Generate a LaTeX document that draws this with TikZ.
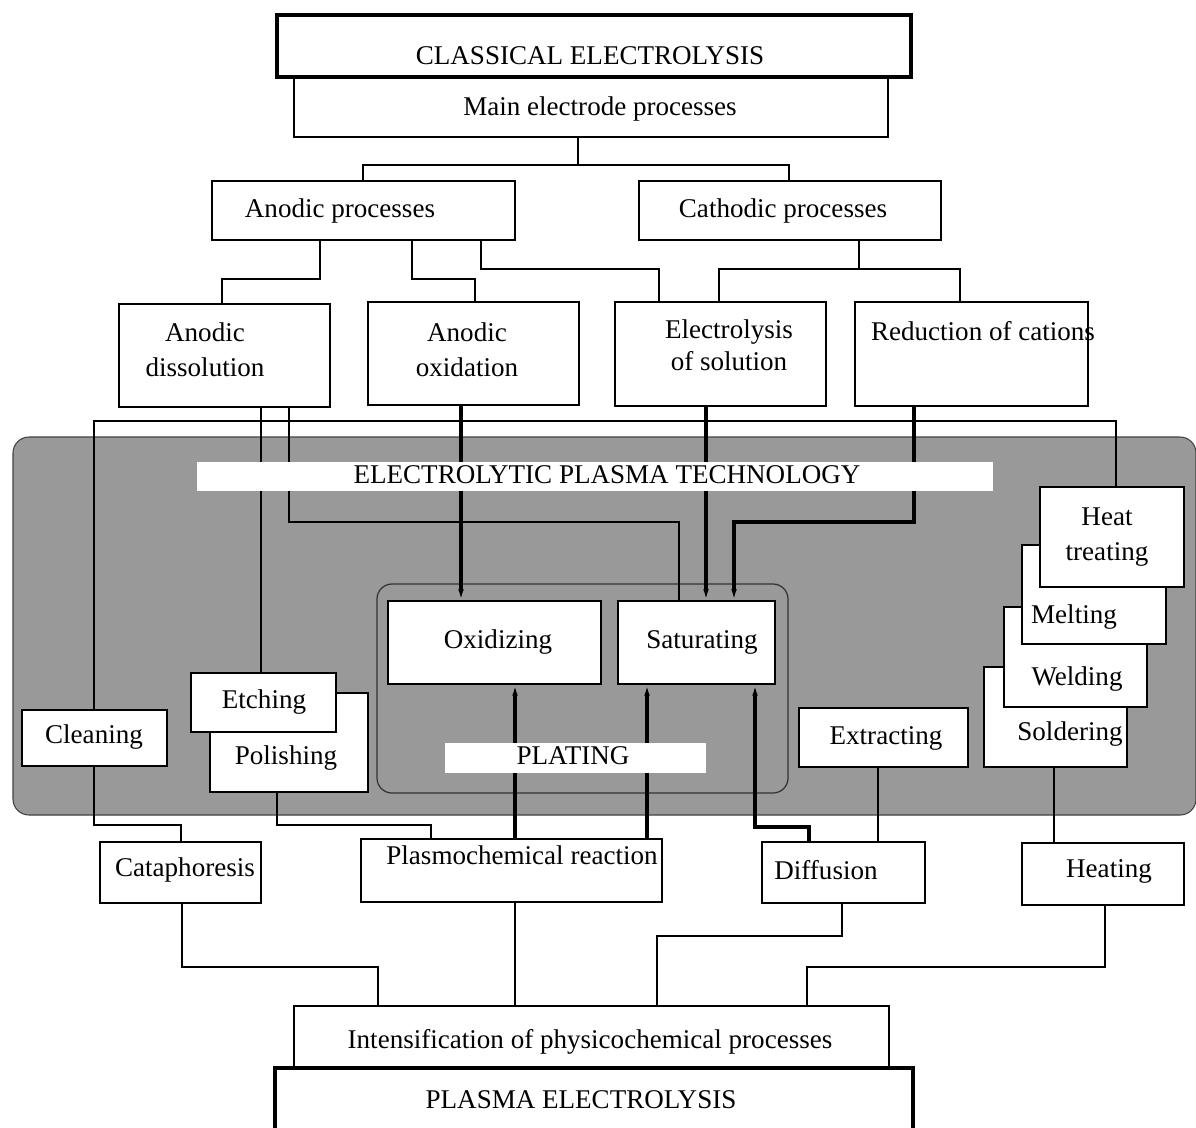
\documentclass[tikz,border=0pt]{standalone}
\usepackage{fontspec}
\setmainfont{Liberation Serif}
\usetikzlibrary{fit,arrows.meta}
\tikzset{
  box/.style={draw,fill=white,line width=1.2pt,inner sep=0pt},
  bigbox/.style={box,line width=2.4pt},
  band/.style={fill=white,inner sep=0pt},
  lbl/.style={font=\fontsize{15.4pt}{20pt}\selectfont,inner sep=0pt,anchor=base},
  link/.style={line width=1.1pt},
  feed/.style={line width=1.8pt,-{Latex[length=6pt,width=3.2pt]}}
}

\begin{document}
\begin{tikzpicture}[x=0.02cm,y=-0.02cm]
  \useasboundingbox (0,0) rectangle (1196,1127);
  \clip (0,0) rectangle (1196,1127);

  % grey region and the plating frame
  \node[fill=black!40,draw=black!75,line width=0.6pt,rounded corners=0.32cm,
        inner sep=0pt,fit={(13,437) (1196,815)}] (ept) {};
  \node[draw=black!80,line width=0.7pt,rounded corners=0.3cm,
        inner sep=0pt,fit={(377,584) (788,793)}] (platfr) {};

  % classical electrolysis
  \node[box,fit={(294,77) (888,137)}] (main) {};
  \node[lbl] (main-t) at (600,115) {Main electrode processes};
  \node[bigbox,fit={(277,15) (911,77)}] (ce) {};
  \node[lbl] (ce-t) at (590,64) {CLASSICAL ELECTROLYSIS};

  \node[box,fit={(212,181) (515,240)}] (anod) {};
  \node[lbl] (anod-t) at (340,217) {Anodic processes};
  \node[box,fit={(639,181) (941,240)}] (cath) {};
  \node[lbl] (cath-t) at (783,217) {Cathodic processes};

  \node[box,fit={(119,304) (330,407)}] (diss) {};
  \node[lbl,anchor=center,align=center] (diss-t) at (205,350) {Anodic\\dissolution};
  \node[box,fit={(368,302) (579,405)}] (oxid) {};
  \node[lbl,anchor=center,align=center] (oxid-t) at (467,350) {Anodic\\oxidation};
  \node[box,fit={(615,302) (826,406)}] (elec) {};
  \node[lbl,anchor=center,align=center,font=\fontsize{15.4pt}{18.2pt}\selectfont]
    (elec-t) at (729,345) {Electrolysis\\of solution};
  \node[box,fit={(855,302) (1088,406)}] (redu) {};
  \node[lbl] (redu-t) at (983,340) {Reduction of cations};

  % plating
  \node[box,fit={(388,601) (601,684)}] (oxz) {};
  \node[lbl] (oxz-t) at (498,648) {Oxidizing};
  \node[box,fit={(618,601) (775,684)}] (satu) {};
  \node[lbl] (satu-t) at (702,648) {Saturating};

  % left group
  \node[box,fit={(22,710) (167,766)}] (clean) {};
  \node[lbl] (clean-t) at (94,743) {Cleaning};
  \node[box,fit={(210,693) (368,792)}] (pol) {};
  \node[lbl] (pol-t) at (286,764) {Polishing};
  \node[box,fit={(191,673) (336,732)}] (etch) {};
  \node[lbl] (etch-t) at (264,708) {Etching};

  % right group, stacked
  \node[box,fit={(799,708) (968,767)}] (extr) {};
  \node[lbl] (extr-t) at (886,744) {Extracting};
  \node[box,fit={(984,667) (1127,767)}] (sold) {};
  \node[lbl] (sold-t) at (1070,740) {Soldering};
  \node[box,fit={(1004,607) (1147,707)}] (weld) {};
  \node[lbl] (weld-t) at (1077,685) {Welding};
  \node[box,fit={(1022,545) (1166,644)}] (melt) {};
  \node[lbl] (melt-t) at (1074,623) {Melting};
  \node[box,fit={(1040,487) (1184,587)}] (heat) {};
  \node[lbl,anchor=center,align=center] (heat-t) at (1107,537) {Heat\\treating};

  % plasma electrolysis
  \node[box,fit={(100,842) (261,903)}] (cata) {};
  \node[lbl] (cata-t) at (185,876) {Cataphoresis};
  \node[box,fit={(361,839) (662,902)}] (plas) {};
  \node[lbl] (plas-t) at (522,864) {Plasmochemical reaction};
  \node[box,fit={(762,842) (925,903)}] (diff) {};
  \node[lbl] (diff-t) at (826,879) {Diffusion};
  \node[box,fit={(1022,843) (1184,905)}] (heatg) {};
  \node[lbl] (heatg-t) at (1109,877) {Heating};
  \node[box,fit={(294,1006) (889,1068)}] (int) {};
  \node[lbl] (int-t) at (590,1048) {Intensification of physicochemical processes};
  \node[bigbox,fit={(275,1068) (913,1150)}] (pe) {};
  \node[lbl] (pe-t) at (581,1108) {PLASMA ELECTROLYSIS};

  % connections
  \draw[link] (main.south -| 578,0) -- (578,165) -| (anod.north -| 363,0);
  \draw[link] (578,165) -| (cath.north -| 789,0);
  \draw[link] (anod.south -| 320,0) -- (320,279) -| (diss.north -| 222,0);
  \draw[link] (anod.south -| 412,0) -- (412,279) -| (oxid.north -| 475,0);
  \draw[link] (anod.south -| 481,0) -- (481,269) -| (elec.north -| 659,0);
  \draw[link] (cath.south -| 859,0) -- (859,269);
  \draw[link] (elec.north -| 719,0) |- (960,269) -- (redu.north -| 960,0);
  \draw[link] (clean.north -| 94,0) |- (1116,421) -- (heat.north -| 1116,0);
  \draw[link] (diss.south -| 261,0) -- (etch.north -| 261,0);
  \draw[link] (diss.south -| 289,0) |- (679,522) -- (satu.north -| 679,0);
  \draw[feed] (oxid.south -| 461,0) -- (oxz.north -| 461,0);
  \draw[feed] (elec.south -| 706,0) -- (satu.north -| 706,0);
  \draw[feed] (redu.south -| 914,0) |- (734,522) -- (satu.north -| 734,0);
  \draw[feed] (plas.north -| 515,0) -- (oxz.south -| 515,0);
  \draw[feed] (plas.north -| 647,0) -- (satu.south -| 647,0);
  \draw[feed] (diff.north -| 809,0) |- (755,827) -- (satu.south -| 755,0);
  \draw[link] (clean.south -| 94,0) |- (181,825) -- (cata.north -| 181,0);
  \draw[link] (pol.south -| 277,0) |- (431,825) -- (plas.north -| 431,0);
  \draw[link] (extr.south -| 878,0) -- (diff.north -| 878,0);
  \draw[link] (sold.south -| 1054,0) -- (heatg.north -| 1054,0);
  \draw[link] (cata.south -| 182,0) |- (378,967) -- (int.north -| 378,0);
  \draw[link] (plas.south -| 515,0) -- (int.north -| 515,0);
  \draw[link] (diff.south -| 842,0) |- (657,936) -- (int.north -| 657,0);
  \draw[link] (heatg.south -| 1105,0) |- (807,967) -- (int.north -| 807,0);

  % white bands over the lines
  \node[band,fit={(197,462) (993,491)}] (ept-band) {};
  \node[lbl] (ept-t) at (607,483) {ELECTROLYTIC PLASMA TECHNOLOGY};
  \node[band,fit={(445,743) (706,773)}] (plat-band) {};
  \node[lbl] (plat-t) at (573,764) {PLATING};
\end{tikzpicture}
\end{document}
